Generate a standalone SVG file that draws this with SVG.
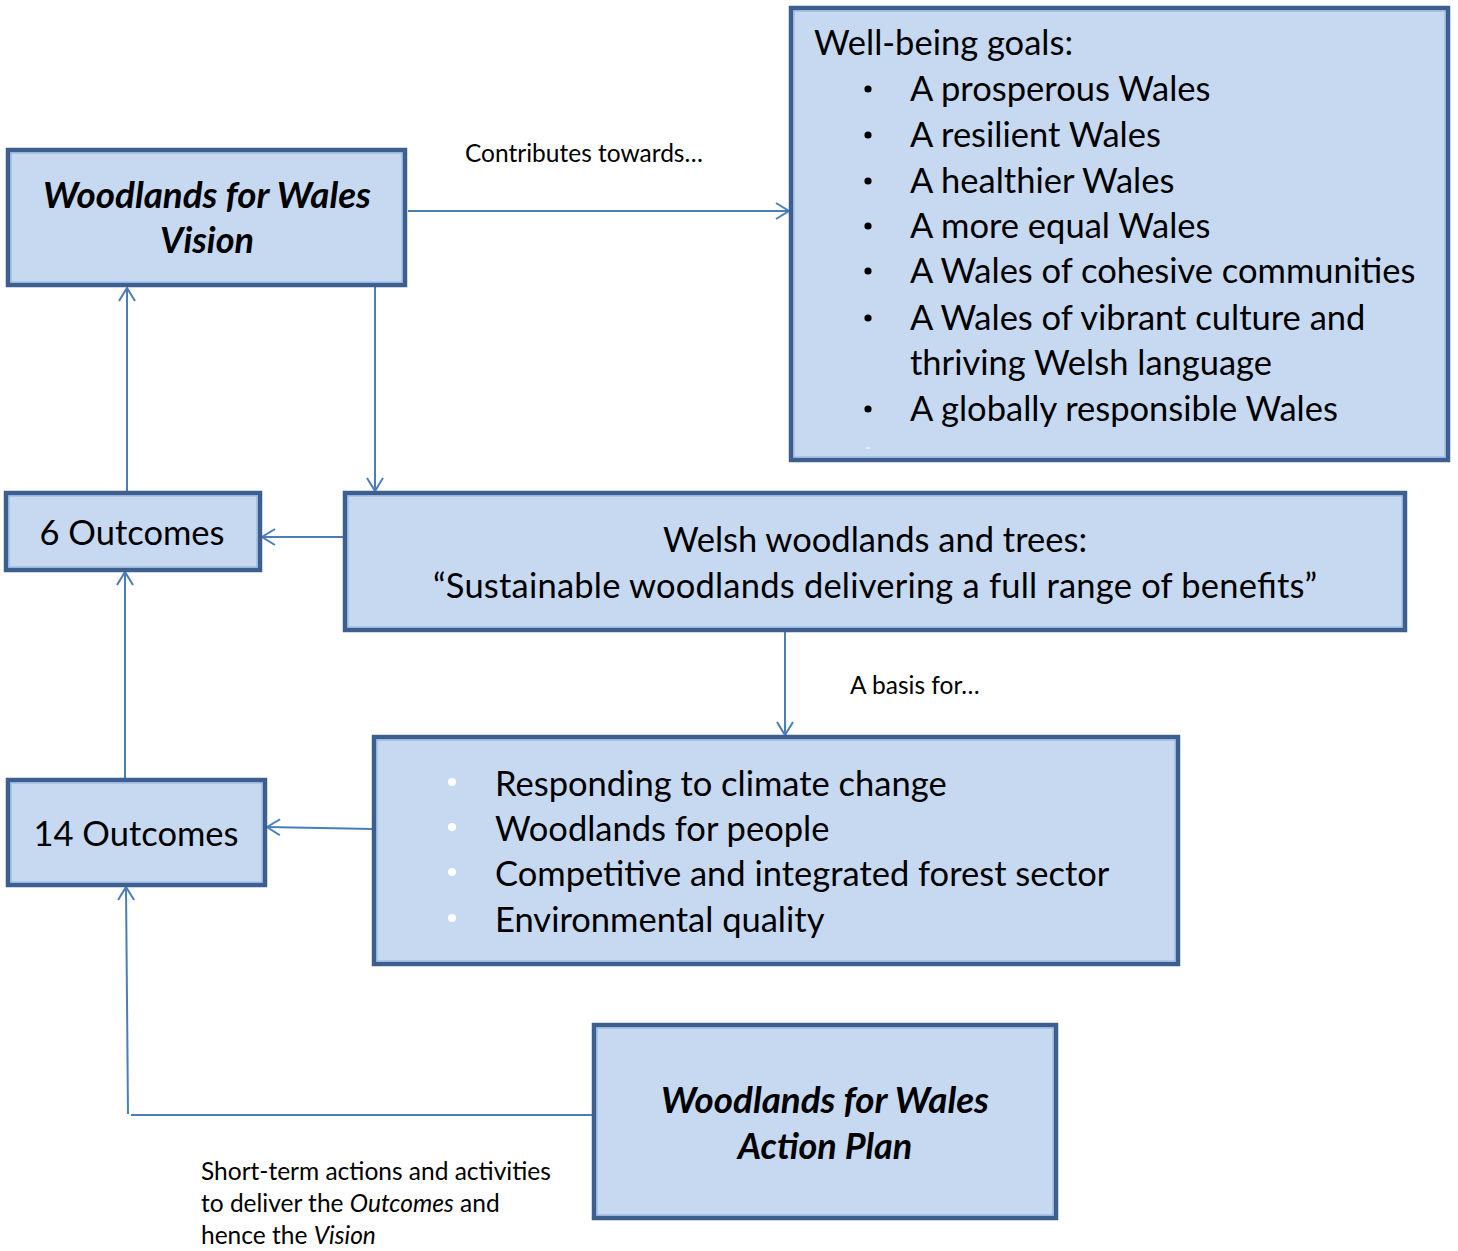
<svg xmlns="http://www.w3.org/2000/svg" width="1458" height="1251" viewBox="0 0 1458 1251">
<style>
.box{fill:#c6d9f0;stroke:#3c5f8f;stroke-width:4.5}
.inner{fill:none;stroke:#8fb0dc;stroke-width:1}
.t{font-family:Lato,"Liberation Sans",sans-serif;font-size:34.5px;fill:#000}
.bi{font-weight:bold;font-style:italic;font-size:36px}
.s{font-family:Lato,"Liberation Sans",sans-serif;font-size:24.5px;fill:#000}
.c{stroke:#4a7ebb;stroke-width:2;fill:none}
</style>
<defs>
<marker id="a" markerWidth="16" markerHeight="20" refX="14" refY="10" orient="auto" markerUnits="userSpaceOnUse">
<path d="M1,2 L14,10 L1,18" fill="none" stroke="#4a7ebb" stroke-width="2"/>
</marker>
</defs>
<g id="connectors">
<line class="c" x1="408" y1="211" x2="789" y2="211" marker-end="url(#a)"/>
<line class="c" x1="375" y1="287" x2="375" y2="491" marker-end="url(#a)"/>
<line class="c" x1="127" y1="491" x2="127" y2="288" marker-end="url(#a)"/>
<line class="c" x1="344" y1="537" x2="262" y2="537" marker-end="url(#a)"/>
<line class="c" x1="785" y1="631" x2="785" y2="735" marker-end="url(#a)"/>
<line class="c" x1="125" y1="778" x2="125" y2="572" marker-end="url(#a)"/>
<line class="c" x1="373" y1="829" x2="267" y2="827" marker-end="url(#a)"/>
<line class="c" x1="593" y1="1115" x2="131" y2="1115"/>
<line class="c" x1="128" y1="1114" x2="126" y2="887" marker-end="url(#a)"/>
</g>
<g id="vision">
<rect class="box" x="8" y="150" width="397" height="135"/>
<rect class="inner" x="11" y="153" width="391" height="129"/>
<text class="t bi" x="207" y="208" text-anchor="middle" textLength="328" lengthAdjust="spacingAndGlyphs">Woodlands for Wales</text>
<text class="t bi" x="207" y="253" text-anchor="middle">Vision</text>
</g>
<g id="wellbeing">
<rect class="box" x="791" y="8" width="657" height="452"/>
<rect class="inner" x="794" y="11" width="651" height="446"/>
<text class="t" x="814" y="55">Well-being goals:</text>
<g fill="#000">
<circle cx="868" cy="89" r="3.6"/>
<circle cx="868" cy="135" r="3.6"/>
<circle cx="868" cy="181" r="3.6"/>
<circle cx="868" cy="226" r="3.6"/>
<circle cx="868" cy="271" r="3.6"/>
<circle cx="868" cy="318" r="3.6"/>
<circle cx="868" cy="409" r="3.6"/>
</g>
<g class="t">
<text x="910" y="101">A prosperous Wales</text>
<text x="910" y="147">A resilient Wales</text>
<text x="910" y="193">A healthier Wales</text>
<text x="910" y="238">A more equal Wales</text>
<text x="910" y="283">A Wales of cohesive communities</text>
<text x="910" y="330">A Wales of vibrant culture and</text>
<text x="910" y="375">thriving Welsh language</text>
<text x="910" y="421">A globally responsible Wales</text>
</g>
<line x1="866" y1="448" x2="870" y2="448" stroke="#fff" stroke-width="1"/>
</g>
<g id="outcomes6">
<rect class="box" x="6" y="493" width="254" height="77"/>
<rect class="inner" x="9" y="496" width="248" height="71"/>
<text class="t" x="132" y="545" text-anchor="middle">6 Outcomes</text>
</g>
<g id="welsh">
<rect class="box" x="345" y="493" width="1060" height="137"/>
<rect class="inner" x="348" y="496" width="1054" height="131"/>
<text class="t" x="875" y="552" text-anchor="middle">Welsh woodlands and trees:</text>
<text class="t" x="875" y="598" text-anchor="middle" textLength="884" lengthAdjust="spacing">“Sustainable woodlands delivering a full range of benefits”</text>
</g>
<g id="outcomes14">
<rect class="box" x="8" y="780" width="257" height="105"/>
<rect class="inner" x="11" y="783" width="251" height="99"/>
<text class="t" x="136" y="846" text-anchor="middle">14 Outcomes</text>
</g>
<g id="themes">
<rect class="box" x="374" y="737" width="804" height="227"/>
<rect class="inner" x="377" y="740" width="798" height="221"/>
<g fill="#fff">
<circle cx="452" cy="782" r="4"/>
<circle cx="452" cy="827" r="4"/>
<circle cx="452" cy="872" r="4"/>
<circle cx="452" cy="918" r="4"/>
</g>
<g class="t">
<text x="495" y="796">Responding to climate change</text>
<text x="495" y="841">Woodlands for people</text>
<text x="495" y="886">Competitive and integrated forest sector</text>
<text x="495" y="932">Environmental quality</text>
</g>
</g>
<g id="actionplan">
<rect class="box" x="594" y="1025" width="462" height="193"/>
<rect class="inner" x="597" y="1028" width="456" height="187"/>
<text class="t bi" x="825" y="1113" text-anchor="middle" textLength="328" lengthAdjust="spacingAndGlyphs">Woodlands for Wales</text>
<text class="t bi" x="825" y="1159" text-anchor="middle">Action Plan</text>
</g>
<g id="labels">
<text class="s" x="465" y="162">Contributes towards…</text>
<text class="s" x="850" y="694">A basis for…</text>
<text class="s" x="201" y="1180">Short-term actions and activities</text>
<text class="s" x="201" y="1212">to deliver the <tspan font-style="italic">Outcomes</tspan> and</text>
<text class="s" x="201" y="1244">hence the <tspan font-style="italic">Vision</tspan></text>
</g>
</svg>
